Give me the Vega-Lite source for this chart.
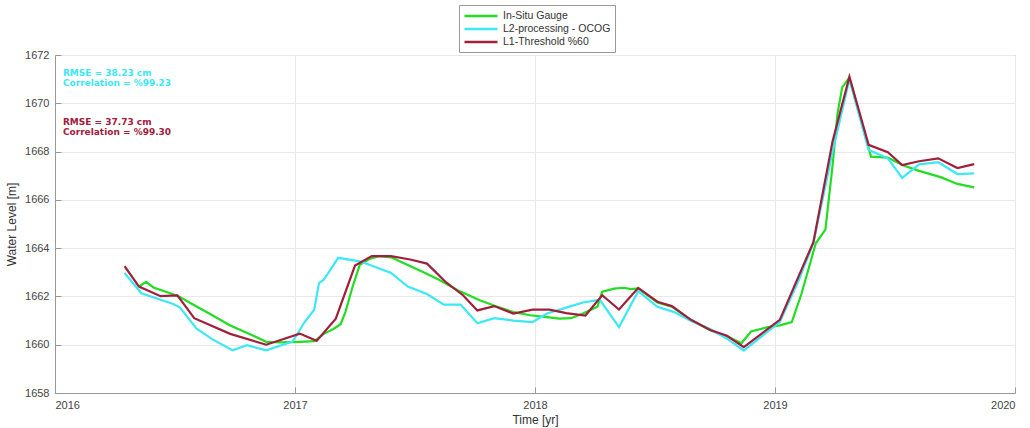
{
  "$schema": "https://vega.github.io/schema/vega-lite/v6.json",
  "autosize": {"type": "none"},
  "width": 960,
  "height": 338,
  "padding": {"left": 55, "top": 55, "right": 15, "bottom": 35},
  "background": "white",
  "config": {
    "font": "Liberation Sans",
    "view": {"stroke": "#999999", "strokeWidth": 1},
    "axis": {
      "labelColor": "#444444",
      "labelFont": "Liberation Sans",
      "labelFontSize": 11,
      "titleColor": "#333333",
      "titleFont": "Liberation Sans",
      "titleFontSize": 12,
      "titleFontWeight": "normal",
      "gridColor": "#e8e8e8",
      "domainColor": "#999999",
      "tickColor": "#999999",
      "tickSize": -6,
      "labelPadding": 12
    }
  },
  "datasets": {
    "series": [
      {"series": "In-Situ Gauge", "year": 2016.35, "level": 1662.41},
      {"series": "In-Situ Gauge", "year": 2016.38, "level": 1662.60},
      {"series": "In-Situ Gauge", "year": 2016.41, "level": 1662.37},
      {"series": "In-Situ Gauge", "year": 2016.48, "level": 1662.13},
      {"series": "In-Situ Gauge", "year": 2016.52, "level": 1661.98},
      {"series": "In-Situ Gauge", "year": 2016.56, "level": 1661.75},
      {"series": "In-Situ Gauge", "year": 2016.65, "level": 1661.25},
      {"series": "In-Situ Gauge", "year": 2016.73, "level": 1660.80},
      {"series": "In-Situ Gauge", "year": 2016.82, "level": 1660.40},
      {"series": "In-Situ Gauge", "year": 2016.88, "level": 1660.12},
      {"series": "In-Situ Gauge", "year": 2016.95, "level": 1660.10},
      {"series": "In-Situ Gauge", "year": 2017.02, "level": 1660.12},
      {"series": "In-Situ Gauge", "year": 2017.08, "level": 1660.15},
      {"series": "In-Situ Gauge", "year": 2017.12, "level": 1660.45},
      {"series": "In-Situ Gauge", "year": 2017.16, "level": 1660.65},
      {"series": "In-Situ Gauge", "year": 2017.19, "level": 1660.85},
      {"series": "In-Situ Gauge", "year": 2017.21, "level": 1661.35},
      {"series": "In-Situ Gauge", "year": 2017.24, "level": 1662.40},
      {"series": "In-Situ Gauge", "year": 2017.27, "level": 1663.31},
      {"series": "In-Situ Gauge", "year": 2017.31, "level": 1663.55},
      {"series": "In-Situ Gauge", "year": 2017.35, "level": 1663.67},
      {"series": "In-Situ Gauge", "year": 2017.40, "level": 1663.62},
      {"series": "In-Situ Gauge", "year": 2017.47, "level": 1663.30},
      {"series": "In-Situ Gauge", "year": 2017.54, "level": 1662.98},
      {"series": "In-Situ Gauge", "year": 2017.60, "level": 1662.69},
      {"series": "In-Situ Gauge", "year": 2017.68, "level": 1662.25},
      {"series": "In-Situ Gauge", "year": 2017.77, "level": 1661.84},
      {"series": "In-Situ Gauge", "year": 2017.84, "level": 1661.58},
      {"series": "In-Situ Gauge", "year": 2017.91, "level": 1661.35},
      {"series": "In-Situ Gauge", "year": 2017.98, "level": 1661.22},
      {"series": "In-Situ Gauge", "year": 2018.05, "level": 1661.14},
      {"series": "In-Situ Gauge", "year": 2018.10, "level": 1661.08},
      {"series": "In-Situ Gauge", "year": 2018.15, "level": 1661.10},
      {"series": "In-Situ Gauge", "year": 2018.20, "level": 1661.29},
      {"series": "In-Situ Gauge", "year": 2018.26, "level": 1661.57},
      {"series": "In-Situ Gauge", "year": 2018.28, "level": 1662.20},
      {"series": "In-Situ Gauge", "year": 2018.33, "level": 1662.32},
      {"series": "In-Situ Gauge", "year": 2018.37, "level": 1662.36},
      {"series": "In-Situ Gauge", "year": 2018.40, "level": 1662.30},
      {"series": "In-Situ Gauge", "year": 2018.43, "level": 1662.33},
      {"series": "In-Situ Gauge", "year": 2018.51, "level": 1661.75},
      {"series": "In-Situ Gauge", "year": 2018.57, "level": 1661.58},
      {"series": "In-Situ Gauge", "year": 2018.65, "level": 1661.02},
      {"series": "In-Situ Gauge", "year": 2018.73, "level": 1660.60},
      {"series": "In-Situ Gauge", "year": 2018.80, "level": 1660.35},
      {"series": "In-Situ Gauge", "year": 2018.86, "level": 1660.06},
      {"series": "In-Situ Gauge", "year": 2018.90, "level": 1660.55},
      {"series": "In-Situ Gauge", "year": 2018.97, "level": 1660.73},
      {"series": "In-Situ Gauge", "year": 2019.02, "level": 1660.80},
      {"series": "In-Situ Gauge", "year": 2019.07, "level": 1660.94},
      {"series": "In-Situ Gauge", "year": 2019.11, "level": 1662.10},
      {"series": "In-Situ Gauge", "year": 2019.17, "level": 1664.20},
      {"series": "In-Situ Gauge", "year": 2019.21, "level": 1664.77},
      {"series": "In-Situ Gauge", "year": 2019.24, "level": 1667.44},
      {"series": "In-Situ Gauge", "year": 2019.26, "level": 1669.54},
      {"series": "In-Situ Gauge", "year": 2019.28, "level": 1670.66},
      {"series": "In-Situ Gauge", "year": 2019.31, "level": 1671.07},
      {"series": "In-Situ Gauge", "year": 2019.40, "level": 1667.79},
      {"series": "In-Situ Gauge", "year": 2019.47, "level": 1667.75},
      {"series": "In-Situ Gauge", "year": 2019.53, "level": 1667.44},
      {"series": "In-Situ Gauge", "year": 2019.60, "level": 1667.20},
      {"series": "In-Situ Gauge", "year": 2019.69, "level": 1666.94},
      {"series": "In-Situ Gauge", "year": 2019.76, "level": 1666.66},
      {"series": "In-Situ Gauge", "year": 2019.83, "level": 1666.52},

      {"series": "L2-processing - OCOG", "year": 2016.29, "level": 1662.97},
      {"series": "L2-processing - OCOG", "year": 2016.36, "level": 1662.13},
      {"series": "L2-processing - OCOG", "year": 2016.49, "level": 1661.70},
      {"series": "L2-processing - OCOG", "year": 2016.52, "level": 1661.55},
      {"series": "L2-processing - OCOG", "year": 2016.59, "level": 1660.66},
      {"series": "L2-processing - OCOG", "year": 2016.66, "level": 1660.20},
      {"series": "L2-processing - OCOG", "year": 2016.74, "level": 1659.77},
      {"series": "L2-processing - OCOG", "year": 2016.80, "level": 1659.98},
      {"series": "L2-processing - OCOG", "year": 2016.88, "level": 1659.77},
      {"series": "L2-processing - OCOG", "year": 2016.99, "level": 1660.13},
      {"series": "L2-processing - OCOG", "year": 2017.04, "level": 1660.94},
      {"series": "L2-processing - OCOG", "year": 2017.08, "level": 1661.45},
      {"series": "L2-processing - OCOG", "year": 2017.10, "level": 1662.55},
      {"series": "L2-processing - OCOG", "year": 2017.12, "level": 1662.69},
      {"series": "L2-processing - OCOG", "year": 2017.18, "level": 1663.60},
      {"series": "L2-processing - OCOG", "year": 2017.27, "level": 1663.45},
      {"series": "L2-processing - OCOG", "year": 2017.31, "level": 1663.31},
      {"series": "L2-processing - OCOG", "year": 2017.40, "level": 1662.97},
      {"series": "L2-processing - OCOG", "year": 2017.47, "level": 1662.41},
      {"series": "L2-processing - OCOG", "year": 2017.55, "level": 1662.10},
      {"series": "L2-processing - OCOG", "year": 2017.62, "level": 1661.66},
      {"series": "L2-processing - OCOG", "year": 2017.69, "level": 1661.66},
      {"series": "L2-processing - OCOG", "year": 2017.76, "level": 1660.89},
      {"series": "L2-processing - OCOG", "year": 2017.83, "level": 1661.10},
      {"series": "L2-processing - OCOG", "year": 2017.91, "level": 1661.00},
      {"series": "L2-processing - OCOG", "year": 2017.99, "level": 1660.94},
      {"series": "L2-processing - OCOG", "year": 2018.05, "level": 1661.29},
      {"series": "L2-processing - OCOG", "year": 2018.15, "level": 1661.60},
      {"series": "L2-processing - OCOG", "year": 2018.20, "level": 1661.75},
      {"series": "L2-processing - OCOG", "year": 2018.27, "level": 1661.86},
      {"series": "L2-processing - OCOG", "year": 2018.35, "level": 1660.73},
      {"series": "L2-processing - OCOG", "year": 2018.43, "level": 1662.22},
      {"series": "L2-processing - OCOG", "year": 2018.51, "level": 1661.57},
      {"series": "L2-processing - OCOG", "year": 2018.58, "level": 1661.35},
      {"series": "L2-processing - OCOG", "year": 2018.65, "level": 1660.98},
      {"series": "L2-processing - OCOG", "year": 2018.73, "level": 1660.65},
      {"series": "L2-processing - OCOG", "year": 2018.80, "level": 1660.25},
      {"series": "L2-processing - OCOG", "year": 2018.87, "level": 1659.76},
      {"series": "L2-processing - OCOG", "year": 2019.02, "level": 1660.94},
      {"series": "L2-processing - OCOG", "year": 2019.10, "level": 1662.70},
      {"series": "L2-processing - OCOG", "year": 2019.16, "level": 1664.22},
      {"series": "L2-processing - OCOG", "year": 2019.24, "level": 1668.00},
      {"series": "L2-processing - OCOG", "year": 2019.31, "level": 1671.00},
      {"series": "L2-processing - OCOG", "year": 2019.39, "level": 1668.07},
      {"series": "L2-processing - OCOG", "year": 2019.47, "level": 1667.72},
      {"series": "L2-processing - OCOG", "year": 2019.53, "level": 1666.91},
      {"series": "L2-processing - OCOG", "year": 2019.60, "level": 1667.47},
      {"series": "L2-processing - OCOG", "year": 2019.68, "level": 1667.56},
      {"series": "L2-processing - OCOG", "year": 2019.76, "level": 1667.07},
      {"series": "L2-processing - OCOG", "year": 2019.83, "level": 1667.10},

      {"series": "L1-Threshold %60", "year": 2016.29, "level": 1663.25},
      {"series": "L1-Threshold %60", "year": 2016.35, "level": 1662.41},
      {"series": "L1-Threshold %60", "year": 2016.44, "level": 1662.01},
      {"series": "L1-Threshold %60", "year": 2016.51, "level": 1662.04},
      {"series": "L1-Threshold %60", "year": 2016.58, "level": 1661.10},
      {"series": "L1-Threshold %60", "year": 2016.73, "level": 1660.45},
      {"series": "L1-Threshold %60", "year": 2016.88, "level": 1660.00},
      {"series": "L1-Threshold %60", "year": 2017.02, "level": 1660.46},
      {"series": "L1-Threshold %60", "year": 2017.09, "level": 1660.16},
      {"series": "L1-Threshold %60", "year": 2017.17, "level": 1661.08},
      {"series": "L1-Threshold %60", "year": 2017.25, "level": 1663.28},
      {"series": "L1-Threshold %60", "year": 2017.32, "level": 1663.67},
      {"series": "L1-Threshold %60", "year": 2017.40, "level": 1663.67},
      {"series": "L1-Threshold %60", "year": 2017.48, "level": 1663.53},
      {"series": "L1-Threshold %60", "year": 2017.55, "level": 1663.36},
      {"series": "L1-Threshold %60", "year": 2017.63, "level": 1662.58},
      {"series": "L1-Threshold %60", "year": 2017.70, "level": 1662.05},
      {"series": "L1-Threshold %60", "year": 2017.76, "level": 1661.42},
      {"series": "L1-Threshold %60", "year": 2017.83, "level": 1661.60},
      {"series": "L1-Threshold %60", "year": 2017.91, "level": 1661.29},
      {"series": "L1-Threshold %60", "year": 2017.99, "level": 1661.45},
      {"series": "L1-Threshold %60", "year": 2018.06, "level": 1661.45},
      {"series": "L1-Threshold %60", "year": 2018.13, "level": 1661.31},
      {"series": "L1-Threshold %60", "year": 2018.21, "level": 1661.21},
      {"series": "L1-Threshold %60", "year": 2018.28, "level": 1662.05},
      {"series": "L1-Threshold %60", "year": 2018.35, "level": 1661.46},
      {"series": "L1-Threshold %60", "year": 2018.43, "level": 1662.35},
      {"series": "L1-Threshold %60", "year": 2018.51, "level": 1661.78},
      {"series": "L1-Threshold %60", "year": 2018.57, "level": 1661.60},
      {"series": "L1-Threshold %60", "year": 2018.65, "level": 1661.03},
      {"series": "L1-Threshold %60", "year": 2018.73, "level": 1660.61},
      {"series": "L1-Threshold %60", "year": 2018.80, "level": 1660.37},
      {"series": "L1-Threshold %60", "year": 2018.87, "level": 1659.90},
      {"series": "L1-Threshold %60", "year": 2019.02, "level": 1661.03},
      {"series": "L1-Threshold %60", "year": 2019.16, "level": 1664.25},
      {"series": "L1-Threshold %60", "year": 2019.24, "level": 1668.43},
      {"series": "L1-Threshold %60", "year": 2019.31, "level": 1671.10},
      {"series": "L1-Threshold %60", "year": 2019.39, "level": 1668.28},
      {"series": "L1-Threshold %60", "year": 2019.47, "level": 1667.97},
      {"series": "L1-Threshold %60", "year": 2019.53, "level": 1667.44},
      {"series": "L1-Threshold %60", "year": 2019.60, "level": 1667.60},
      {"series": "L1-Threshold %60", "year": 2019.68, "level": 1667.72},
      {"series": "L1-Threshold %60", "year": 2019.76, "level": 1667.32},
      {"series": "L1-Threshold %60", "year": 2019.83, "level": 1667.48}
    ],
    "notes": [
      {"series": "L2-processing - OCOG", "year": 2016.033, "level": 1671.27, "label": "RMSE = 38.23 cm"},
      {"series": "L2-processing - OCOG", "year": 2016.033, "level": 1670.84, "label": "Correlation = %99.23"},
      {"series": "L1-Threshold %60", "year": 2016.033, "level": 1669.24, "label": "RMSE = 37.73 cm"},
      {"series": "L1-Threshold %60", "year": 2016.033, "level": 1668.82, "label": "Correlation = %99.30"}
    ]
  },
  "layer": [
    {
      "data": {"name": "series"},
      "mark": {"type": "line", "strokeWidth": 2.2},
      "encoding": {
        "x": {
          "field": "year", "type": "quantitative",
          "scale": {"domain": [2016, 2020], "nice": false, "zero": false},
          "axis": {"title": "Time [yr]", "values": [2016, 2017, 2018, 2019, 2020], "format": "d", "titlePadding": 4, "labelPadding": 12}
        },
        "y": {
          "field": "level", "type": "quantitative",
          "scale": {"domain": [1658, 1672], "nice": false, "zero": false},
          "axis": {"title": "Water Level [m]", "values": [1658, 1660, 1662, 1664, 1666, 1668, 1670, 1672], "format": "d", "titlePadding": 6}
        },
        "color": {
          "field": "series", "type": "nominal",
          "scale": {
            "domain": ["In-Situ Gauge", "L2-processing - OCOG", "L1-Threshold %60"],
            "range": ["#22DD22", "#3DE8F5", "#A0203C"]
          },
          "legend": {
            "title": null,
            "orient": "none",
            "legendX": 404,
            "legendY": -50,
            "direction": "vertical",
            "symbolType": "M-1,0H5",
            "symbolStrokeWidth": 2.5,
            "symbolSize": 121,
            "labelOffset": 26,
            "rowPadding": 0,
            "labelFontSize": 10.5,
            "labelColor": "#333333",
            "labelFont": "Liberation Sans",
            "strokeColor": "#999999",
            "fillColor": "white",
            "padding": 4
          }
        }
      }
    },
    {
      "data": {"name": "notes"},
      "mark": {"type": "text", "align": "left", "baseline": "middle", "fontSize": 9, "fontWeight": "bold", "font": "DejaVu Sans"},
      "encoding": {
        "x": {"field": "year", "type": "quantitative"},
        "y": {"field": "level", "type": "quantitative"},
        "text": {"field": "label"},
        "color": {"field": "series", "type": "nominal", "legend": null}
      }
    }
  ]
}
